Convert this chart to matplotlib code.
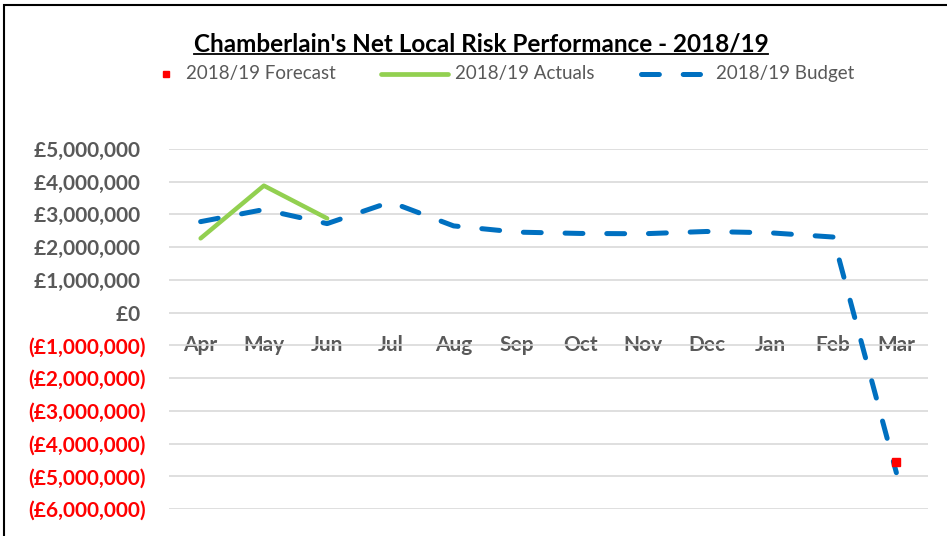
import matplotlib.pyplot as plt
from matplotlib.lines import Line2D
from matplotlib.patches import Rectangle
from matplotlib.ticker import FuncFormatter, MultipleLocator

plt.switch_backend("Agg")

# Chart data (values in GBP)
months = ["Apr", "May", "Jun", "Jul", "Aug", "Sep", "Oct", "Nov", "Dec", "Jan", "Feb", "Mar"]
budget = [2780000, 3150000, 2720000, 3380000, 2650000, 2460000,
          2420000, 2410000, 2480000, 2440000, 2310000, -4890000]
actual_months = ["Apr", "May", "Jun"]
actuals = [2270000, 3880000, 2880000]
forecast_months = ["Mar"]
forecast = [-4550000]

title = "Chamberlain's Net Local Risk Performance - 2018/19"
legend_labels = ["2018/19 Forecast", "2018/19 Actuals", "2018/19 Budget"]

GREY = "#595959"
RED = "#FF0000"
BLUE = "#0070C0"
GREEN = "#92D050"
GRID = "#D9D9D9"
BUDGET_DASH = (0, (3.575, 4.767))

plt.rcParams["font.family"] = ["Lato", "DejaVu Sans"]

W, H = 947, 536
fig = plt.figure(figsize=(W / 100, H / 100), dpi=100)
fig.patch.set_facecolor("white")

# plot area in pixel terms: x 169..928, y 149..509 (from top)
ax = fig.add_axes([169 / W, (H - 509) / H, (928 - 169) / W, (509 - 149) / H])

# budget first so the category order follows the months list
ax.plot(months, budget, color=BLUE, linewidth=3.6, linestyle=BUDGET_DASH,
        dash_capstyle="round", dash_joinstyle="round", zorder=3)
ax.plot(actual_months, actuals, color=GREEN, linewidth=3.2, solid_capstyle="round",
        solid_joinstyle="round", zorder=4)
ax.plot(forecast_months, forecast, marker="s", markersize=5.5, color=RED,
        linestyle="none", zorder=5)

ax.set_xlim(-0.5, len(months) - 0.5)
ax.set_ylim(-6000000, 5000000)
ax.yaxis.set_major_locator(MultipleLocator(1000000))


def money(v, pos):
    if v < 0:
        return "(£{:,.0f})".format(-v)
    # trailing space keeps positives aligned like Excel's "_)" padding
    return "£{:,.0f} ".format(v)


ax.yaxis.set_major_formatter(FuncFormatter(money))
ax.grid(axis="y", color=GRID, linewidth=1.2)
ax.set_axisbelow(True)
for s in ax.spines.values():
    s.set_visible(False)
ax.spines["bottom"].set_position(("data", 0))

ax.tick_params(axis="x", length=0, pad=16, labelsize=15, labelcolor=GREY)
ax.tick_params(axis="y", length=0, pad=17, labelsize=15)
for lab in ax.get_xticklabels():
    lab.set_fontweight("bold")

fig.canvas.draw()
for val, lab in zip(ax.get_yticks(), ax.get_yticklabels()):
    lab.set_fontweight("bold")
    lab.set_color(RED if val < 0 else GREY)

# Legend, laid out by hand like Excel's top legend
ly = 1 - 74 / H
fig.add_artist(Line2D([166 / W], [ly], marker="s", markersize=5, color=RED,
                      linestyle="none", transform=fig.transFigure))
fig.add_artist(Line2D([381 / W, 448 / W], [ly, ly], color=GREEN, linewidth=3.4,
                      solid_capstyle="round", transform=fig.transFigure))
fig.add_artist(Line2D([641 / W, 700 / W], [ly, ly], color=BLUE, linewidth=3.6,
                      linestyle=BUDGET_DASH, dash_capstyle="round",
                      transform=fig.transFigure))
for xpos, lab in zip([186, 455, 716], legend_labels):
    fig.text(xpos / W, ly, lab, ha="left", va="center", fontsize=13.5, color=GREY)

# Title with underline
t = fig.text(481 / W, 1 - 51 / H, title, ha="center", va="baseline",
             fontsize=17.5, fontweight="bold", color="black")
fig.canvas.draw()
bb = t.get_window_extent()
uy = (H - 54) / H
fig.add_artist(Line2D([bb.x0 / W, bb.x1 / W], [uy, uy], color="black",
                      linewidth=1.3, transform=fig.transFigure))

# Chart frame
fig.add_artist(Rectangle((4 / W, -0.1), 1.2, (H - 5) / H + 0.1, transform=fig.transFigure,
                         fill=False, edgecolor="black", linewidth=1.5))

fig.savefig("out.png", dpi=100)
plt.close(fig)
